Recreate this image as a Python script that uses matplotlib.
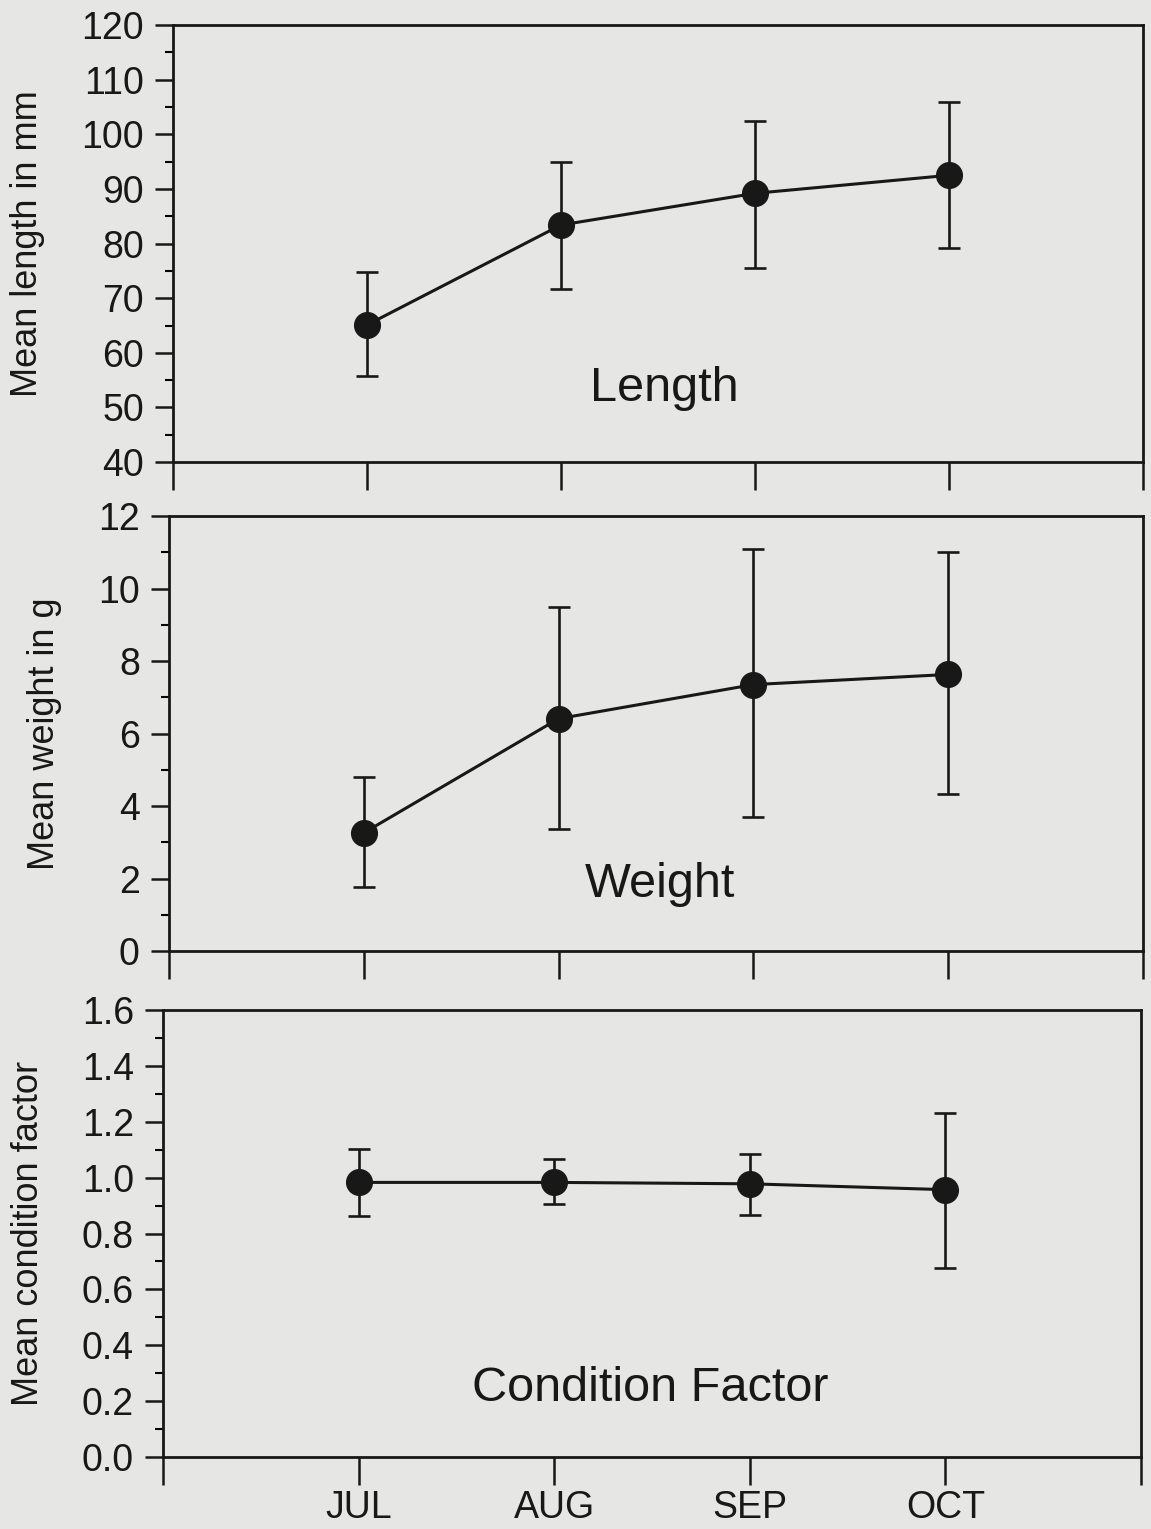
import matplotlib
matplotlib.use("Agg")
import matplotlib.pyplot as plt
from matplotlib.ticker import MultipleLocator

# months and summary stats
months = ["JUL", "AUG", "SEP", "OCT"]

length_mean = [65.1, 83.4, 89.2, 92.5]
length_lo = [55.7, 71.6, 75.5, 79.2]
length_hi = [74.8, 94.9, 102.4, 105.9]

weight_mean = [3.26, 6.41, 7.35, 7.63]
weight_lo = [1.76, 3.37, 3.70, 4.34]
weight_hi = [4.79, 9.50, 11.09, 11.00]

cond_mean = [0.983, 0.983, 0.978, 0.957]
cond_lo = [0.863, 0.906, 0.866, 0.675]
cond_hi = [1.104, 1.066, 1.085, 1.231]

BG = "#e6e6e4"
INK = "#181818"
plt.rcParams['font.family'] = ['Liberation Sans', 'DejaVu Sans']

fig = plt.figure(figsize=(11.51, 15.29), dpi=100, facecolor=BG)

panels = [
    # (rect, mean, lo, hi, ylim, major, minor, ylabel, tag, tag_pos)
    ([0.1503, 0.6978, 0.8427, 0.2858], length_mean, length_lo, length_hi,
     (40, 120), 10, 5, "Mean length in mm", "Length", (0.507, 0.169)),
    ([0.1468, 0.3780, 0.8462, 0.2845], weight_mean, weight_lo, weight_hi,
     (0, 12), 2, 1, "Mean weight in g", "Weight", (0.504, 0.152)),
    ([0.1416, 0.0471, 0.8497, 0.2923], cond_mean, cond_lo, cond_hi,
     (0, 1.6), 0.2, 0.1, "Mean condition factor", "Condition Factor", (0.498, 0.154)),
]

x = [1, 2, 3, 4]

for i, (rect, mean, lo, hi, ylim, major, minor, ylabel, tag, tag_pos) in enumerate(panels):
    ax = fig.add_axes(rect)
    ax.set_facecolor(BG)
    yerr = [[m - l for m, l in zip(mean, lo)], [h - m for m, h in zip(mean, hi)]]
    ax.errorbar(x, mean, yerr=yerr, color=INK, lw=2.2, marker="o", markersize=18.5,
                elinewidth=1.9, capsize=8, capthick=1.9, zorder=3)
    ax.set_xlim(0, 5)
    ax.set_ylim(*ylim)
    ax.yaxis.set_major_locator(MultipleLocator(major))
    ax.yaxis.set_minor_locator(MultipleLocator(minor))

    # x ticks also at the frame edges so the side lines run past the bottom
    ax.set_xticks([0, 1, 2, 3, 4, 5])
    if i == 2:
        ax.set_xticklabels([""] + months + [""])
    else:
        ax.set_xticklabels([""] * 6)

    for sp in ax.spines.values():
        sp.set_linewidth(2.0)
        sp.set_color(INK)
    ax.tick_params(axis="y", which="major", direction="out", length=13, width=1.8,
                   labelsize=27, pad=8, colors=INK)
    ax.tick_params(axis="y", which="minor", direction="out", length=6, width=1.5)
    ax.tick_params(axis="x", which="major", direction="out", length=20, width=1.8,
                   labelsize=27, pad=4, colors=INK)

    ax.set_ylabel(ylabel, fontsize=26, color=INK, labelpad=26)
    ax.text(tag_pos[0], tag_pos[1], tag, transform=ax.transAxes, ha="center",
            va="center", fontsize=35, color=INK)

fig.savefig("out.png", dpi=100, facecolor=BG)
